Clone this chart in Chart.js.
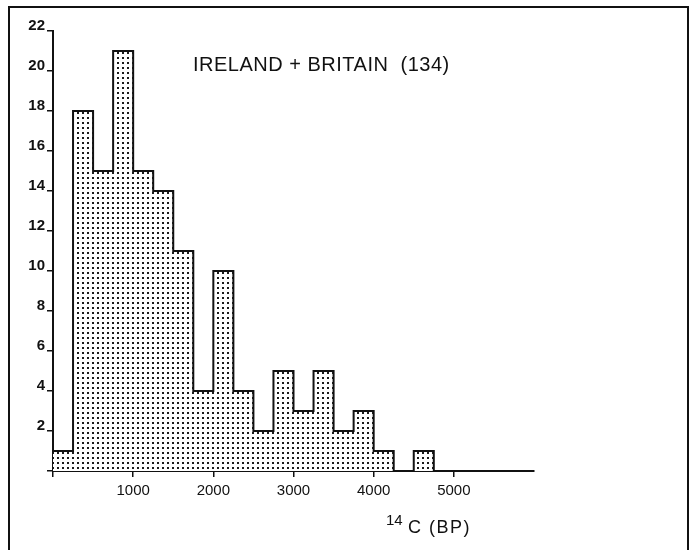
<!DOCTYPE html>
<html>
<head>
<meta charset="utf-8">
<script src="https://cdn.jsdelivr.net/npm/chart.js@4/dist/chart.umd.min.js"></script>
<style>
  html, body { margin: 0; padding: 0; background: #fff; }
  #wrap { position: relative; width: 689px; height: 550px; overflow: hidden; }
  #frame { position: absolute; left: 8px; top: 6px; width: 677px; height: 600px;
           border: 2px solid #111; border-bottom: none; pointer-events: none; }
</style>
</head>
<body>
<div id="wrap">
  <canvas id="c" width="689" height="550"></canvas>
  <div id="frame"></div>
</div>
<script>
// ---- data ----
const binWidth = 250;                       // years BP per class
const binStarts = [0, 250, 500, 750, 1000, 1250, 1500, 1750, 2000, 2250,
                   2500, 2750, 3000, 3250, 3500, 3750, 4000, 4250, 4500];
const counts    = [1, 18, 15, 21, 15, 14, 11, 4, 10, 4,
                   2, 5, 3, 5, 2, 3, 1, 0, 1];
const xTickValues = [0, 1000, 2000, 3000, 4000, 5000];
const yTickValues = [0, 2, 4, 6, 8, 10, 12, 14, 16, 18, 20, 22];
const titleText = 'IRELAND + BRITAIN  (134)';
const axisSup = '14';
const axisMain = 'C (BP)';

// step outline points (each class starts at its lower edge)
const stepPoints = binStarts.map((s, i) => ({ x: s, y: counts[i] }));
stepPoints.push({ x: binStarts[binStarts.length - 1] + binWidth, y: 0 });

// dotted screen pattern
function makePattern() {
  const p = document.createElement('canvas');
  p.width = 5; p.height = 5;
  const g = p.getContext('2d');
  g.fillStyle = '#fff';
  g.fillRect(0, 0, 5, 5);
  g.fillStyle = '#1a1a1a';
  g.fillRect(2, 2, 2, 2);
  return document.getElementById('c').getContext('2d').createPattern(p, 'repeat');
}

const textPlugin = {
  id: 'texts',
  afterDraw(chart) {
    const ctx = chart.ctx;
    ctx.save();
    ctx.fillStyle = '#111';
    ctx.textBaseline = 'alphabetic';
    ctx.textAlign = 'left';
    ctx.letterSpacing = '0.5px';
    ctx.font = '20px "Liberation Sans", Arial, sans-serif';
    ctx.fillText(titleText, 193, 71);
    ctx.letterSpacing = '0px';
    ctx.font = '15px "Liberation Sans", Arial, sans-serif';
    ctx.fillText(axisSup, 386, 525);
    ctx.letterSpacing = '1.5px';
    ctx.font = '18px "Liberation Sans", Arial, sans-serif';
    ctx.fillText(axisMain, 408, 533);
    ctx.restore();
  }
};

new Chart(document.getElementById('c'), {
  type: 'line',
  data: {
    datasets: [{
      data: stepPoints,
      stepped: 'before',
      fill: 'origin',
      backgroundColor: makePattern(),
      borderColor: '#111',
      borderWidth: 2,
      pointRadius: 0,
      tension: 0
    }]
  },
  options: {
    responsive: false,
    animation: false,
    layout: { padding: { left: 0, top: 31, right: 155, bottom: 0 } },
    plugins: { legend: { display: false }, tooltip: { enabled: false }, title: { display: false } },
    scales: {
      x: {
        type: 'linear',
        min: 0, max: 6000,
        afterFit(s) { s.height = 79; },
        afterBuildTicks(s) { s.ticks = xTickValues.map(v => ({ value: v })); },
        border: { color: '#111', width: 2 },
        grid: { drawOnChartArea: false, drawTicks: true, tickLength: 6, color: '#111', lineWidth: 1.5 },
        ticks: {
          padding: 5,
          color: '#111',
          font: { family: '"Liberation Sans", Arial, sans-serif', size: 15 },
          maxRotation: 0,
          callback: v => (v === 0 ? '' : String(v))
        }
      },
      y: {
        min: 0, max: 22,
        afterFit(s) { s.width = 53; },
        afterBuildTicks(s) { s.ticks = yTickValues.map(v => ({ value: v })); },
        border: { color: '#111', width: 2 },
        grid: { drawOnChartArea: false, drawTicks: true, tickLength: 6, color: '#111', lineWidth: 1.5 },
        ticks: {
          padding: 2,
          labelOffset: -5,
          color: '#111',
          font: { family: '"Liberation Sans", Arial, sans-serif', size: 15, weight: 'bold' },
          callback: v => (v === 0 ? '' : String(v))
        }
      }
    }
  },
  plugins: [textPlugin]
});
</script>
</body>
</html>
